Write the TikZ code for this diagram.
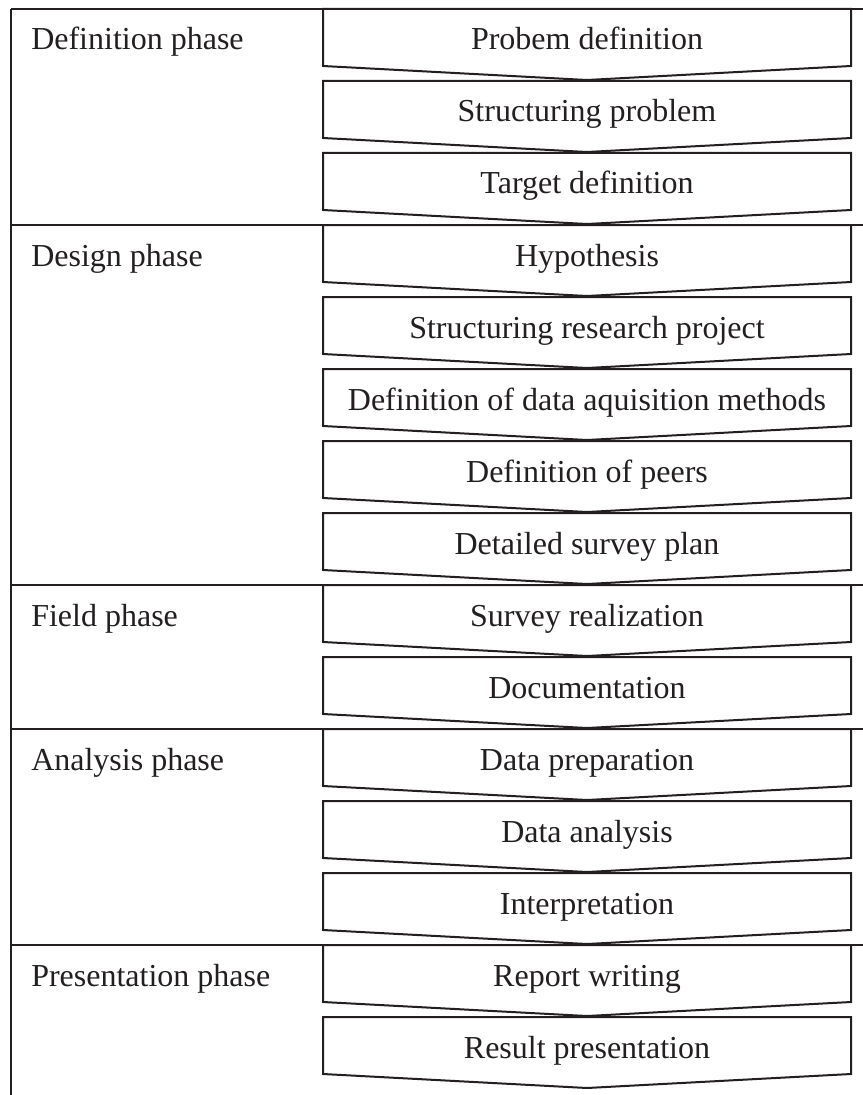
\documentclass[tikz,border=0pt]{standalone}
\usepackage{fontspec}
\setmainfont{Liberation Serif}
\begin{document}
\definecolor{ink}{HTML}{231F20}
\begin{tikzpicture}[x=0.75pt,y=-0.75pt,
  rule/.style={draw=ink,line width=1.5pt},
  stepshape/.style={draw=ink,line width=1.5pt,line join=miter},
  steptext/.style={anchor=base,inner sep=0pt,text=ink,font=\fontsize{24}{28}\selectfont},
  phasetext/.style={anchor=base west,inner sep=0pt,text=ink,font=\fontsize{24}{28}\selectfont}]
\useasboundingbox (0,0) rectangle (863,1095);

% phase separators and left border
\foreach \y in {9,225,585,729,945}
  \draw[rule] (11,\y) -- (863,\y);
\draw[rule] (11,9) -- (11,1095);

% phase labels
\node[phasetext] (p1) at (31,50) {Definition phase};
\node[phasetext] (p2) at (31,266) {Design phase};
\node[phasetext] (p3) at (31,626) {Field phase};
\node[phasetext] (p4) at (31,770) {Analysis phase};
\node[phasetext] (p5) at (31,986) {Presentation phase};

% process steps (downward pentagons)
\foreach \i/\txt in {0/Probem definition,1/Structuring problem,2/Target definition,
  3/Hypothesis,4/Structuring research project,5/Definition of data aquisition methods,
  6/Definition of peers,7/Detailed survey plan,8/Survey realization,9/Documentation,
  10/Data preparation,11/Data analysis,12/Interpretation,13/Report writing,
  14/Result presentation}{
  \pgfmathsetmacro{\t}{9+72*\i}
  \draw[stepshape] (323,\t) -- (851,\t) -- (851,\t+57) -- (587,\t+71) -- (323,\t+57) -- cycle;
  \node[steptext] (s\i) at (587,\t+41) {\txt};
}
\end{tikzpicture}
\end{document}
